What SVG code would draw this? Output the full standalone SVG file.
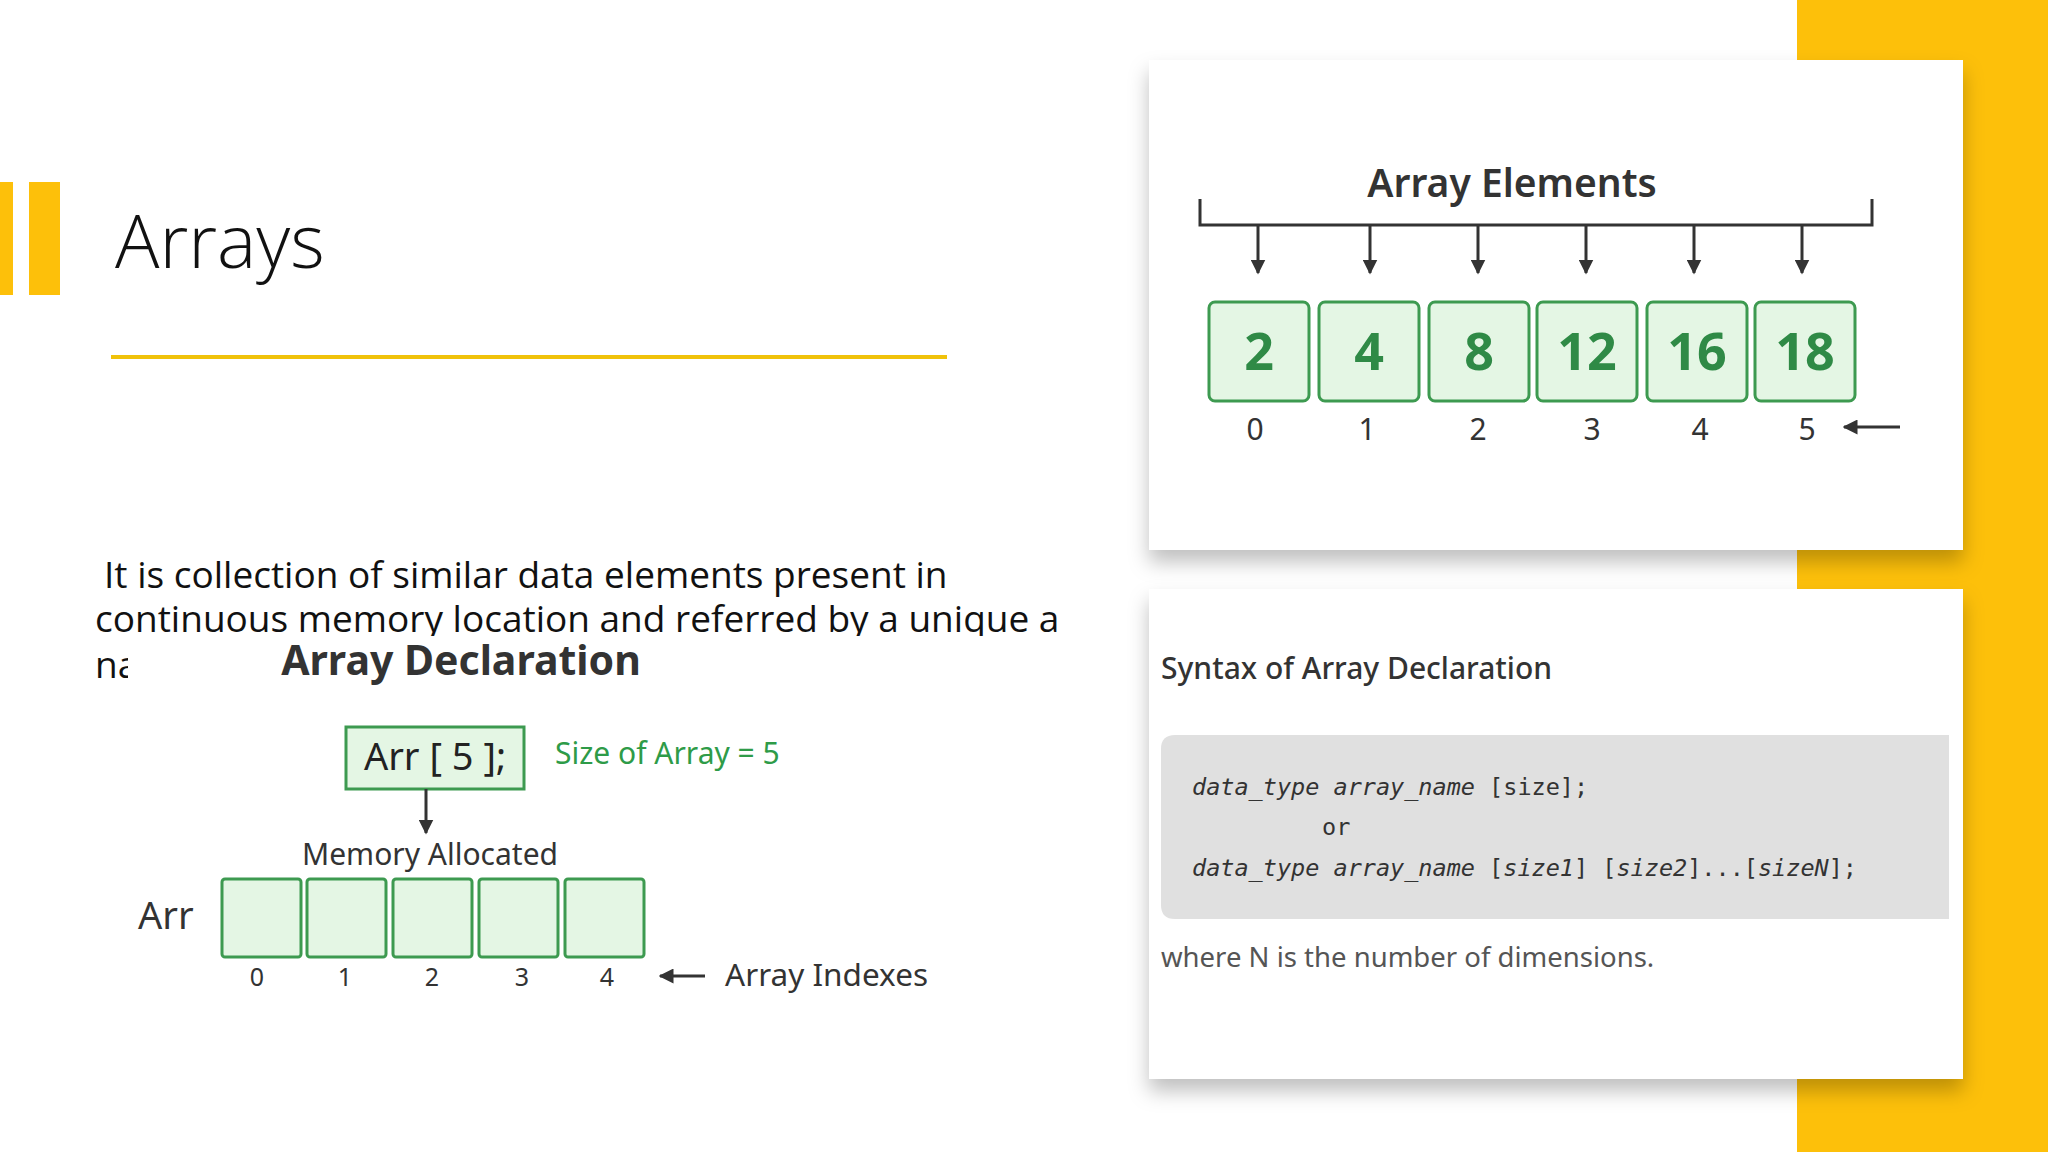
<svg xmlns="http://www.w3.org/2000/svg" width="2048" height="1152" viewBox="0 0 2048 1152">
<style>
.sans{font-family:"Open Sans","Liberation Sans",sans-serif}
.gm{font-family:"Noto Sans","Liberation Sans",sans-serif}
.cell{fill:#e4f6e4;stroke:#3d9a50;stroke-width:3}
.num{font-family:"Noto Sans","Liberation Sans",sans-serif;font-weight:700;font-size:52px;fill:#2f8a46;text-anchor:middle}
.idx{font-family:"Noto Sans","Liberation Sans",sans-serif;font-size:30px;fill:#333;text-anchor:middle}
.idx2{font-family:"Noto Sans","Liberation Sans",sans-serif;font-size:25px;fill:#333;text-anchor:middle}
.ln{stroke:#333;stroke-width:3;fill:none}
.code{font-family:"DejaVu Sans Mono","Liberation Mono",monospace;font-size:23.5px;fill:#333}
</style>
<defs>
<marker id="ah" viewBox="0 0 10 10" refX="9" refY="5" markerWidth="5" markerHeight="5" orient="auto"><path d="M0,0 L10,5 L0,10 z" fill="#333"/></marker>
<filter id="sh" x="-5%" y="-5%" width="110%" height="120%"><feDropShadow dx="0" dy="12" stdDeviation="10" flood-color="#000" flood-opacity="0.25"/></filter>
<clipPath id="pc"><path d="M0,0 H2048 V636 H128 V1152 H0 z"/></clipPath>
</defs>
<rect width="2048" height="1152" fill="#fff"/>
<rect x="1797" y="0" width="251" height="1152" fill="#fdc00a"/>
<rect x="0" y="182" width="13" height="113" fill="#fdc00a"/>
<rect x="29" y="182" width="31" height="113" fill="#fdc00a"/>
<text x="115" y="268" class="sans" font-size="74" font-weight="300" fill="#111">Arrays</text>
<line x1="111" y1="357" x2="947" y2="357" stroke="#f0c20a" stroke-width="4"/>
<g id="paragraph" class="sans" font-size="37" fill="#111" clip-path="url(#pc)">
<text x="104" y="588">It is collection of similar data elements present in</text>
<text x="95" y="632">continuous memory location and referred by a unique  a</text>
<text x="95" y="678">name</text>
</g>
<g id="declaration">
<text x="461" y="675" class="gm" font-size="41" font-weight="700" fill="#333" text-anchor="middle">Array Declaration</text>
<g id="decl-box"><rect x="346" y="727" width="178" height="62" class="cell"/>
<text x="435" y="770" class="gm" font-size="38" fill="#222" text-anchor="middle">Arr [ 5 ];</text></g>
<text x="555" y="764" class="gm" font-size="30" fill="#2e9b48">Size of Array = 5</text>
<text x="430" y="865" class="gm" font-size="30" fill="#333" text-anchor="middle">Memory Allocated</text>
<text x="138" y="929" class="gm" font-size="38" fill="#333">Arr</text>
<g id="mem-cells">
<rect x="222" y="879" width="79" height="78" rx="3" class="cell"/>
<rect x="307" y="879" width="79" height="78" rx="3" class="cell"/>
<rect x="393" y="879" width="79" height="78" rx="3" class="cell"/>
<rect x="479" y="879" width="79" height="78" rx="3" class="cell"/>
<rect x="565" y="879" width="79" height="78" rx="3" class="cell"/>
</g>
<text x="257" y="986" class="idx2">0</text><text x="345" y="986" class="idx2">1</text><text x="432" y="986" class="idx2">2</text><text x="522" y="986" class="idx2">3</text><text x="607" y="986" class="idx2">4</text>
<text x="725" y="986" class="gm" font-size="31.5" fill="#333">Array Indexes</text>
</g>
<g id="top-panel">
<rect x="1149" y="60" width="814" height="490" fill="#fff" filter="url(#sh)"/>
<text x="1512" y="197" class="gm" font-size="39" font-weight="600" fill="#333" text-anchor="middle">Array Elements</text>
<path d="M1200,199 V225 H1872 V199" class="ln"/>
<g id="elem-cells">
<rect x="1209" y="302" width="100" height="99" rx="6" class="cell"/>
<rect x="1319" y="302" width="100" height="99" rx="6" class="cell"/>
<rect x="1429" y="302" width="100" height="99" rx="6" class="cell"/>
<rect x="1537" y="302" width="100" height="99" rx="6" class="cell"/>
<rect x="1647" y="302" width="100" height="99" rx="6" class="cell"/>
<rect x="1755" y="302" width="100" height="99" rx="6" class="cell"/>
<text x="1259" y="370" class="num">2</text><text x="1369" y="370" class="num">4</text><text x="1479" y="370" class="num">8</text><text x="1587" y="370" class="num">12</text><text x="1697" y="370" class="num">16</text><text x="1805" y="370" class="num">18</text>
</g>
<text x="1255" y="440" class="idx">0</text><text x="1367" y="440" class="idx">1</text><text x="1478" y="440" class="idx">2</text><text x="1592" y="440" class="idx">3</text><text x="1700" y="440" class="idx">4</text><text x="1807" y="440" class="idx">5</text>
</g>
<g id="bottom-panel">
<rect x="1149" y="589" width="814" height="490" fill="#fff" filter="url(#sh)"/>
<text x="1161" y="679" class="gm" font-size="30" font-weight="500" fill="#333">Syntax of Array Declaration</text>
<path d="M1175,735 H1949 V919 H1175 Q1161,919 1161,905 V749 Q1161,735 1175,735 z" fill="#e0e0e0"/>
<text x="1192" y="795" class="code"><tspan font-style="italic">data_type array_name</tspan> [size];</text>
<text x="1322" y="835" class="code">or</text>
<text x="1192" y="876" class="code"><tspan font-style="italic">data_type array_name</tspan> [<tspan font-style="italic">size1</tspan>] [<tspan font-style="italic">size2</tspan>]...[<tspan font-style="italic">sizeN</tspan>];</text>
<text x="1161" y="967" class="gm" font-size="27.5" fill="#555">where N is the number of dimensions.</text>
</g>
<g id="connectors">
<line x1="426" y1="789" x2="426" y2="833" class="ln" stroke-width="2.5" marker-end="url(#ah)"/>
<line x1="705" y1="976" x2="660" y2="976" class="ln" stroke-width="2.5" marker-end="url(#ah)"/>
<line x1="1258" y1="225" x2="1258" y2="273" class="ln" marker-end="url(#ah)"/>
<line x1="1370" y1="225" x2="1370" y2="273" class="ln" marker-end="url(#ah)"/>
<line x1="1478" y1="225" x2="1478" y2="273" class="ln" marker-end="url(#ah)"/>
<line x1="1586" y1="225" x2="1586" y2="273" class="ln" marker-end="url(#ah)"/>
<line x1="1694" y1="225" x2="1694" y2="273" class="ln" marker-end="url(#ah)"/>
<line x1="1802" y1="225" x2="1802" y2="273" class="ln" marker-end="url(#ah)"/>
<line x1="1900" y1="427" x2="1844" y2="427" class="ln" marker-end="url(#ah)"/>
</g>
</svg>
